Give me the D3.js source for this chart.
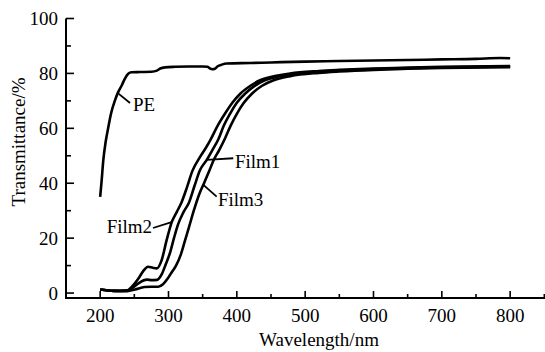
<!DOCTYPE html>
<html>
<head>
<meta charset="utf-8">
<script src="https://cdn.jsdelivr.net/npm/d3@7/dist/d3.min.js"></script>
<style>
  html, body { margin: 0; padding: 0; background: #fff; }
  svg { display: block; }
  text { font-family: "Liberation Serif", "Times New Roman", serif; fill: #000; }
</style>
</head>
<body>
<svg id="chart" width="545" height="352"></svg>
<script>
// Transmittance spectra: [wavelength (nm), transmittance (%)]
const pe = [
  [200, 35], [202, 40.5], [204.6, 48.4], [208, 55], [212, 60.5], [216, 65.5],
  [221.7, 70.2], [226, 73], [231.5, 75.6], [236, 78], [241, 79.9], [246, 80.4],
  [258, 80.5], [275, 80.6], [283, 81], [288, 81.8], [295, 82.2], [310, 82.4],
  [330, 82.5], [350, 82.5], [357, 82.4], [360, 81.9], [364, 81.5], [368, 81.7],
  [372, 82.6], [378, 83.2], [385, 83.6], [420, 83.8], [450, 84.0], [500, 84.3],
  [550, 84.5], [600, 84.7], [650, 84.9], [700, 85.1], [750, 85.3], [785, 85.6],
  [800, 85.5]
];
const film1 = [
  [200, 1.3], [220, 0.8], [240, 0.9], [248, 2.0], [256, 3.5], [268, 4.9],
  [276, 4.7], [283, 4.8], [290, 6.8], [296, 10.5], [302, 14.5], [308, 20],
  [314, 25], [322, 29.5], [330, 33], [338, 39], [346, 44.7], [356, 48.5],
  [364, 52], [373, 56], [381, 61], [390, 65.3], [400, 69.3], [412, 72.6],
  [425, 75.3], [441, 77.5], [460, 78.8], [478, 79.6], [520, 80.6], [550, 81.0],
  [600, 81.6], [650, 81.9], [700, 82.2], [800, 82.5]
];
const film2 = [
  [200, 1.3], [220, 0.8], [240, 1.0], [246, 2.2], [256, 5.3], [263, 8],
  [270, 9.6], [277, 9.2], [283, 9.0], [290, 12], [297, 19], [305, 26],
  [312, 29.5], [319, 33], [327, 38.5], [335, 44.5], [346, 49.5], [355, 53],
  [361, 55.6], [372, 61], [383, 65.5], [394, 69.5], [405, 72.6], [420, 75.5],
  [434, 77.5], [460, 79.2], [478, 80.0], [520, 80.9], [550, 81.3], [600, 81.8],
  [650, 82.1], [700, 82.4], [800, 82.7]
];
const film3 = [
  [200, 1.3], [220, 0.8], [240, 0.7], [251, 1.3], [265, 2.2], [275, 2.3],
  [285, 2.3], [292, 3.2], [298, 5.0], [304, 7.3], [311, 10], [318, 14],
  [324, 19], [330, 24], [337, 30], [345, 36], [352, 40], [360, 44.7],
  [366, 48.4], [374, 52], [383, 56.5], [391, 61], [400, 65.3], [410, 69.2],
  [422, 72.6], [437, 75.5], [453, 77.4], [478, 79.0], [520, 80.2], [550, 80.7],
  [600, 81.3], [650, 81.7], [700, 82.0], [800, 82.3]
];

const xTicks = [200, 300, 400, 500, 600, 700, 800];
const xMinorTicks = [250, 350, 450, 550, 650, 750, 850];
const yTicks = [0, 20, 40, 60, 80, 100];
const yMinorTicks = [10, 30, 50, 70, 90];

// Curve labels with leader lines: leader from (x0,y0) to (x1,y1), text at (tx,ty)
const labels = [
  { text: "PE",    x0: 225,   y0: 73.0, x1: 243.7, y1: 69.2, tx: 248,   ty: 66.4, anchor: "start" },
  { text: "Film2", x0: 304.5, y0: 25.8, x1: 277.3, y1: 23.7, tx: 276,   ty: 21.9, anchor: "end" },
  { text: "Film1", x0: 356,   y0: 48.5, x1: 394.8, y1: 49.1, tx: 397.3, ty: 45.4, anchor: "start" },
  { text: "Film3", x0: 351,   y0: 39.4, x1: 370.5, y1: 35.1, tx: 372.4, ty: 31.7, anchor: "start" }
];

const svg = d3.select("#chart");
const x = d3.scaleLinear().domain([150, 851]).range([66, 545]);
const y = d3.scaleLinear().domain([-1.8, 100]).range([298, 18.5]);

const fontSize = 19;

// Axes
const gx = svg.append("g").attr("transform", `translate(0,${y(-1.8)})`);
gx.append("line").attr("x1", x(150) - 1).attr("x2", 545)
  .attr("stroke", "#000").attr("stroke-width", 2);
gx.selectAll(".maj").data(xTicks).join("line")
  .attr("x1", d => x(d)).attr("x2", d => x(d)).attr("y1", 0).attr("y2", -7)
  .attr("stroke", "#000").attr("stroke-width", 1.6);
gx.selectAll(".min").data(xMinorTicks).join("line")
  .attr("x1", d => x(d)).attr("x2", d => x(d)).attr("y1", 0).attr("y2", -4)
  .attr("stroke", "#000").attr("stroke-width", 1.6);
gx.selectAll("text").data(xTicks).join("text")
  .attr("x", d => x(d)).attr("y", 23.5)
  .attr("text-anchor", "middle").attr("font-size", fontSize)
  .text(d => d);

const gy = svg.append("g").attr("transform", `translate(${x(150)},0)`);
gy.append("line").attr("y1", y(100)).attr("y2", y(-1.8) + 1)
  .attr("stroke", "#000").attr("stroke-width", 2);
gy.selectAll(".maj").data(yTicks).join("line")
  .attr("y1", d => y(d)).attr("y2", d => y(d)).attr("x1", 0).attr("x2", 8)
  .attr("stroke", "#000").attr("stroke-width", 1.6);
gy.selectAll(".min").data(yMinorTicks).join("line")
  .attr("y1", d => y(d)).attr("y2", d => y(d)).attr("x1", 0).attr("x2", 5)
  .attr("stroke", "#000").attr("stroke-width", 1.6);
gy.selectAll("text").data(yTicks).join("text")
  .attr("x", -8).attr("y", d => y(d)).attr("dy", "0.34em")
  .attr("text-anchor", "end").attr("font-size", fontSize)
  .text(d => d);

// Axis titles
svg.append("text")
  .attr("x", 319).attr("y", 346)
  .attr("text-anchor", "middle").attr("font-size", fontSize)
  .text("Wavelength/nm");
svg.append("text")
  .attr("transform", "translate(24.5,142) rotate(-90)")
  .attr("text-anchor", "middle").attr("font-size", fontSize)
  .text("Transmittance/%");

// Spectra
const line = d3.line().x(d => x(d[0])).y(d => y(d[1])).curve(d3.curveMonotoneX);
[film3, film1, film2, pe].forEach(s => {
  svg.append("path").datum(s).attr("d", line)
    .attr("fill", "none").attr("stroke", "#000")
    .attr("stroke-width", 2.6).attr("stroke-linejoin", "round");
});

// Labels
const gl = svg.append("g");
gl.selectAll("line").data(labels).join("line")
  .attr("x1", d => x(d.x0)).attr("y1", d => y(d.y0))
  .attr("x2", d => x(d.x1)).attr("y2", d => y(d.y1))
  .attr("stroke", "#000").attr("stroke-width", 1.8);
gl.selectAll("text").data(labels).join("text")
  .attr("x", d => x(d.tx)).attr("y", d => y(d.ty))
  .attr("text-anchor", d => d.anchor).attr("font-size", fontSize)
  .text(d => d.text);
</script>
</body>
</html>
